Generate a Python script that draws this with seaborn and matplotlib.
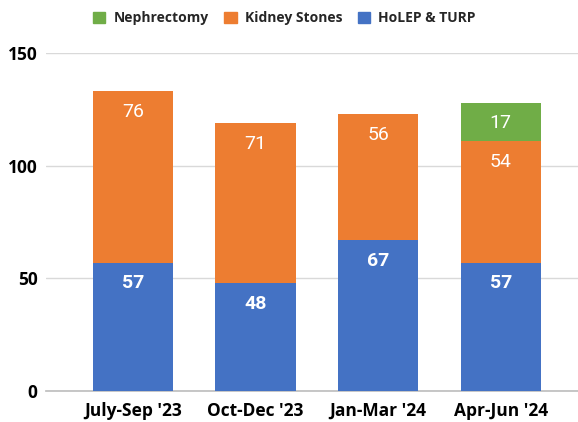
import matplotlib
matplotlib.use("Agg")
import matplotlib.pyplot as plt
import seaborn as sns
import numpy as np
import pandas as pd
from matplotlib.patches import Patch

quarters = ["July-Sep '23", "Oct-Dec '23", "Jan-Mar '24", "Apr-Jun '24"]
holep_turp = [57, 48, 67, 57]
kidney_stones = [76, 71, 56, 54]
nephrectomy = [0, 0, 0, 17]

series = [
    ("HoLEP & TURP", holep_turp, "#4472C4", "bold"),
    ("Kidney Stones", kidney_stones, "#ED7D31", "normal"),
    ("Nephrectomy", nephrectomy, "#70AD47", "normal"),
]

sns.set_theme(style="white")
plt.rcParams["font.family"] = ["Open Sans", "DejaVu Sans"]

fig = plt.figure(figsize=(5.78, 4.22), dpi=100)
ax = fig.add_axes([0.0796, 0.0735, 0.9204, 0.801])

bottom = np.zeros(len(quarters))
for name, vals, color, weight in series:
    df = pd.DataFrame({"quarter": quarters, "value": vals})
    sns.barplot(data=df, x="quarter", y="value", color=color, bottom=bottom,
                width=0.655, saturation=1, ax=ax, zorder=3, linewidth=0)
    for i, v in enumerate(vals):
        if v > 0:
            ax.annotate(str(v), (i, bottom[i] + v), xytext=(0, -15),
                        textcoords="offset points", ha="center", va="center",
                        color="white", fontsize=14, fontweight=weight,
                        family=["Roboto", "DejaVu Sans"])
    bottom = bottom + np.array(vals)

ax.set_ylim(0, 150)
ax.set_xlim(-0.71, 3.63)
ax.set_yticks([0, 50, 100, 150])
ax.yaxis.grid(True, color="#D9D9D9", linewidth=1, zorder=0)
ax.set_xlabel("")
ax.set_ylabel("")
for s in ["top", "right", "left"]:
    ax.spines[s].set_visible(False)
ax.spines["bottom"].set_color("#BFBFBF")
ax.tick_params(axis="both", length=0, labelsize=12.5, colors="black")
ax.tick_params(axis="y", pad=6)
ax.tick_params(axis="x", pad=8)
for lbl in ax.get_xticklabels() + ax.get_yticklabels():
    lbl.set_fontweight("bold")

handles = [Patch(color=c, label=n) for n, _, c, _ in reversed(series)]
fig.legend(handles=handles, loc="center", bbox_to_anchor=(0.492, 0.957), ncol=3,
           frameon=False, prop={"weight": "bold", "size": 10},
           handlelength=0.9, handleheight=0.9, handletextpad=0.6, columnspacing=1.1)

fig.savefig("out.png", dpi=100)
